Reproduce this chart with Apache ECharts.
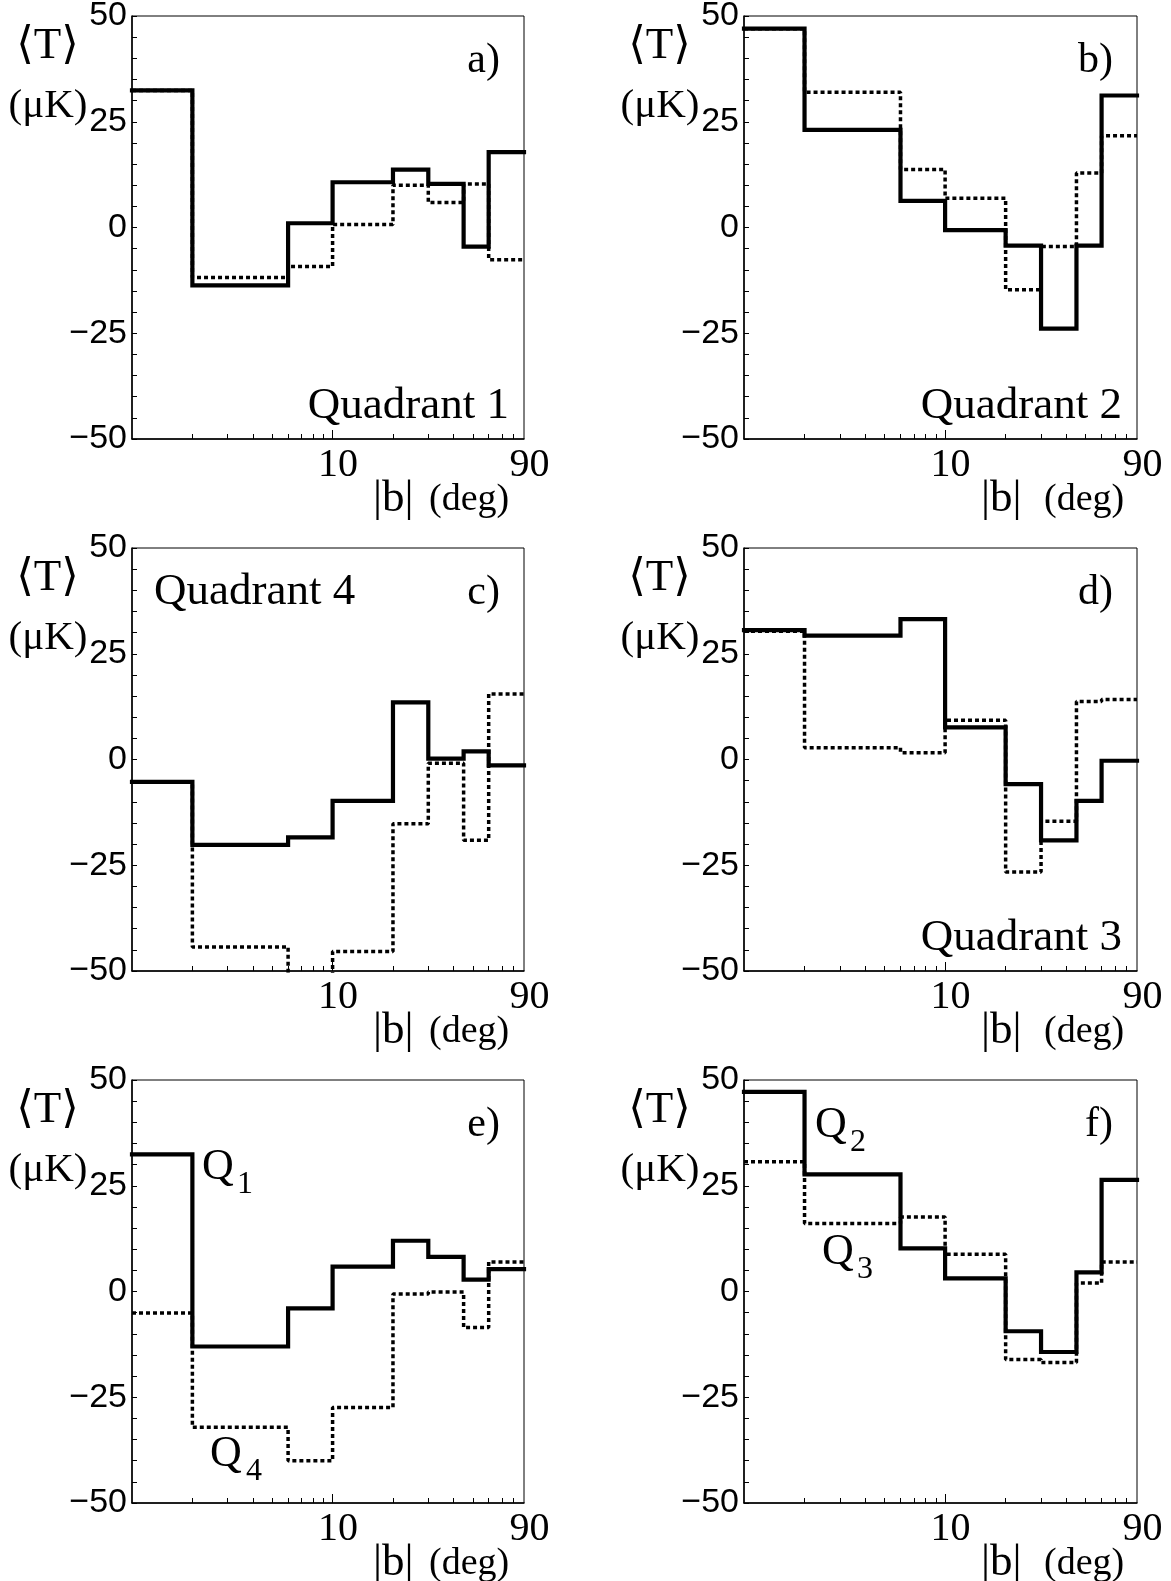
<!DOCTYPE html>
<html><head><meta charset="utf-8">
<script src="https://cdn.jsdelivr.net/npm/echarts@6/dist/echarts.min.js"></script>
<style>html,body{margin:0;padding:0;background:#fff}#c{width:1171px;height:1581px}</style>
</head><body><div id="c"></div>
<script>
// ---- data ----
const binEdges = [1, 2, 6, 10, 20, 30, 45, 60, 90];
const panelNames = ['a)', 'b)', 'c)', 'd)', 'e)', 'f)'];
const quadrantNames = ['Quadrant 1', 'Quadrant 2', 'Quadrant 4', 'Quadrant 3', '', ''];
const solidA  = [32.4, -13.7, 1.0, 10.7, 13.7, 10.3, -4.5, 17.8];
const dottedA = [32.4, -11.8, -9.2, 0.7, 10.0, 5.9, 10.3, -7.6];
const solidB  = [47.0, 23.1, 6.3, -0.6, -4.3, -23.9, -4.3, 31.2];
const dottedB = [47.0, 32.0, 13.7, 6.9, -14.7, -4.5, 12.9, 21.7];
const solidC  = [-5.3, -20.2, -18.4, -9.8, 13.5, 0.2, 1.9, -1.4];
const dottedC = [-5.3, -44.3, -55.0, -45.4, -15.2, -0.9, -19.1, 15.5];
const solidD  = [30.6, 29.3, 33.2, 7.6, -5.8, -19.1, -9.8, -0.3];
const dottedD = [30.3, 2.8, 1.6, 9.3, -26.6, -14.6, 13.7, 14.2];
const solidE  = [32.4, -13.0, -4.0, 5.9, 12.0, 8.2, 2.8, 5.3];   // Q1
const dottedE = [-5.1, -32.1, -40.0, -27.4, -0.6, -0.1, -8.5, 7.0]; // Q4
const solidF  = [47.2, 27.7, 10.2, 3.1, -9.4, -14.3, 4.5, 26.4];  // Q2
const dottedF = [30.7, 16.1, 17.6, 8.8, -16.1, -16.8, 2.0, 7.0];  // Q3
const solidAll = [solidA, solidB, solidC, solidD, solidE, solidF];
const dottedAll = [dottedA, dottedB, dottedC, dottedD, dottedE, dottedF];
const yTickLabels = [-50, -25, 0, 25, 50];
const xTickLabels = [10, 90];
const xMajorTicks = [10];
const xMinorTicks = [2, 3, 4, 5, 6, 7, 8, 9, 20, 30, 40, 50, 60, 70, 80];

// ---- layout ----
const colLeft = [132, 744], colWidth = [392, 393];
const rowTop = [16, 548, 1080], plotH = 423;
const bOffset = [241, 237], degOffset = [297, 300];
const SERIF = "'Liberation Serif', 'DejaVu Serif', serif";
const SANS = "'Liberation Sans', Arial, sans-serif";

function histData(vals) {
  const d = vals.map((v, i) => [binEdges[i], v]);
  d.push([binEdges[binEdges.length - 1], vals[vals.length - 1]]);
  return d;
}
function txt(x, y, s, fs, align, font) {
  return { type: 'text', x: x, y: y, silent: true,
    style: { text: s, fontSize: fs, fontFamily: font || SERIF, fill: '#000',
      align: align || 'left', verticalAlign: 'middle' } };
}

const grids = [], xAxes = [], yAxes = [], series = [], graphics = [];
for (let i = 0; i < 6; i++) {
  const r = Math.floor(i / 2), c = i % 2;
  const L = colLeft[c], W = colWidth[c], T = rowTop[r], R = L + W, B = T + plotH;
  grids.push({ left: L, top: T, width: W, height: plotH, show: true,
    borderColor: '#000', borderWidth: 1, backgroundColor: 'transparent', containLabel: false, outerBoundsMode: 'none' });
  xAxes.push({ type: 'log', logBase: 10, gridIndex: i, min: binEdges[0], max: binEdges[binEdges.length - 1], position: 'bottom',
    axisLine: { show: true, onZero: false, lineStyle: { color: '#000', width: 1.5 } },
    axisTick: { show: true, inside: true, length: 9, customValues: xMajorTicks, lineStyle: { color: '#000', width: 1 } },
    axisLabel: { show: true, customValues: xTickLabels, fontFamily: SERIF, fontSize: 40, color: '#000', margin: 6,
      padding: [0, 0, 0, 11] },
    splitLine: { show: false }, minorTick: { show: false } });
  xAxes.push({ type: 'log', logBase: 10, gridIndex: i, min: binEdges[0], max: binEdges[binEdges.length - 1], position: 'bottom',
    axisLine: { show: false, onZero: false },
    axisTick: { show: true, inside: true, length: 5, customValues: xMinorTicks, lineStyle: { color: '#000', width: 1 } },
    axisLabel: { show: false }, splitLine: { show: false } });
  yAxes.push({ type: 'value', gridIndex: i, min: yTickLabels[0], max: yTickLabels[yTickLabels.length - 1], interval: 25,
    axisLine: { show: true, onZero: false, lineStyle: { color: '#000', width: 1.5 } },
    axisTick: { show: true, inside: true, length: 5, lineStyle: { color: '#000', width: 1 } },
    minorTick: { show: true, splitNumber: 5, length: 5, lineStyle: { color: '#000', width: 1 } },
    axisLabel: { fontFamily: SANS, fontSize: 34, color: '#000', margin: 5,
      formatter: v => (v < 0 ? '\u2212' + Math.abs(v) : String(v)) },
    splitLine: { show: false }, minorSplitLine: { show: false } });
  series.push({ type: 'line', xAxisIndex: 2 * i, yAxisIndex: i, step: 'end', symbol: 'none', clip: true,
    data: histData(dottedAll[i]), lineStyle: { color: '#000', width: 3.5, type: [4, 3], cap: 'butt' }, z: 2 });
  series.push({ type: 'line', xAxisIndex: 2 * i, yAxisIndex: i, step: 'end', symbol: 'none', clip: true,
    data: histData(solidAll[i]), lineStyle: { color: '#000', width: 4.2, cap: 'square', join: 'miter' }, z: 3 });

  graphics.push(txt(L - 84.5, T + 30, '\u27E8T\u27E9', 45, 'center'));
  graphics.push(txt(L - 84, T + 90, '(\u03BCK)', 41, 'center'));
  graphics.push(txt(R - 24, T + 45, panelNames[i], 42, 'right'));
  if (quadrantNames[i]) {
    if (i === 2) graphics.push(txt(L + 22, T + 44.5, quadrantNames[i], 45, 'left'));
    else graphics.push(txt(R - 15, B - 33, quadrantNames[i], 45, 'right'));
  }
  graphics.push(txt(L + bOffset[c], B + 60, '|b|', 45, 'left'));
  graphics.push(txt(L + degOffset[c], B + 61, '(deg)', 38, 'left'));
}
// curve labels in panels e) and f)
graphics.push(txt(202, 1167, 'Q', 44, 'left'));
graphics.push(txt(237, 1185, '1', 32, 'left'));
graphics.push(txt(210, 1454, 'Q', 44, 'left'));
graphics.push(txt(246, 1472, '4', 32, 'left'));
graphics.push(txt(815, 1125, 'Q', 44, 'left'));
graphics.push(txt(850, 1143, '2', 32, 'left'));
graphics.push(txt(822, 1252, 'Q', 44, 'left'));
graphics.push(txt(857, 1270, '3', 32, 'left'));

const chart = echarts.init(document.getElementById('c'), null, { renderer: 'canvas' });
chart.setOption({
  backgroundColor: '#fff',
  animation: false,
  grid: grids, xAxis: xAxes, yAxis: yAxes, series: series,
  graphic: { elements: graphics }
});
</script>
</body></html>
